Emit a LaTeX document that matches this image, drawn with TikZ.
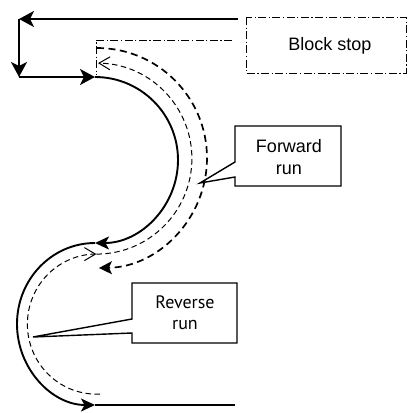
\documentclass[tikz,border=0pt]{standalone}
\usepackage{fontspec}
\setmainfont{Liberation Sans}
\newfontfamily\revfont{PT Sans}
\usetikzlibrary{arrows.meta}
\tikzset{
  solidline/.style={line width=1.9pt},
  thickdash/.style={line width=1.7pt, dash pattern=on 7pt off 4.5pt},
  thindash/.style={line width=1pt, dash pattern=on 5.5pt off 3.5pt},
  dashdot/.style={line width=0.9pt, dash pattern=on 8pt off 2.5pt on 1.2pt off 2.5pt},
  bigtip/.tip={Stealth[length=15pt,width=16pt,inset=4pt]},
  midtip/.tip={Stealth[length=14pt,width=13pt,inset=3.5pt]},
  opentip/.tip={Straight Barb[length=11pt,width=13pt,line width=1pt]},
  callout/.style={line width=1.4pt, draw=black},
  lbl/.style={align=center, inner sep=0pt, font=\fontsize{18}{22}\selectfont}
}
\begin{document}
\begin{tikzpicture}[x=1pt,y=-1pt]
\useasboundingbox (0,0) rectangle (408,413);
% block stop box
\draw[dashdot] (246,17) rectangle (406,73);
\node[lbl] (bs) at (330,46) {Block stop};
% coordinates
\coordinate (tstart) at (238,19);
\coordinate (c1) at (19,19);
\coordinate (c2) at (19,77);
\coordinate (a0) at (95,77);
\coordinate (ddA) at (232,40);
\coordinate (ddB) at (96,40);
\coordinate (ddC) at (96,75);
\coordinate (endline) at (235,405);
% top return path
\draw[solidline,-bigtip] (tstart) -- (c1);
\draw[solidline,-bigtip] (c1) -- (c2);
\draw[solidline,-bigtip] (c2) -- (a0);
% dash dot stop line
\draw[dashdot] (ddA) -- (ddB) -- (ddC);
% solid run
\draw[solidline,-midtip] (a0) arc[start angle=-90,end angle=90,radius=83] coordinate (a1);
\draw[solidline,-midtip] (a1) arc[start angle=270,end angle=90,x radius=78,y radius=81] coordinate (a2);
\draw[solidline] (a2) -- (endline);
% thick dashed forward run
\coordinate (f0) at (97,48);
\draw[thickdash,-{Stealth[length=13pt,width=13pt,inset=3pt]}] (f0) arc[start angle=-90,end angle=89,radius=110] coordinate (f1);
% thin dashed reverse run
\coordinate (r0) at (100,394);
\draw[thindash,-opentip] (r0) arc[start angle=87,end angle=270,x radius=69,y radius=70] coordinate (r1);
\draw[thindash,-opentip] (r1) arc[start angle=90,end angle=-89,radius=95.5] coordinate (r2);
% forward run callout
\coordinate (ftip) at (200,183);
\draw[callout] (235,126) -- (341,126) -- (341,186) -- (235,186) -- (235,177) -- (ftip) -- (235,162) -- cycle;
\node[lbl] (fr) at (289,157) {Forward\\run};
% reverse run callout
\coordinate (rtip) at (33,337);
\draw[callout] (132,283) -- (237,283) -- (237,343) -- (132,343) -- (132,333) -- (rtip) -- (132,319) -- cycle;
\node[lbl,font=\revfont\fontsize{18}{21}\selectfont] (rr) at (185,313) {Reverse\\run};
\end{tikzpicture}
\end{document}
